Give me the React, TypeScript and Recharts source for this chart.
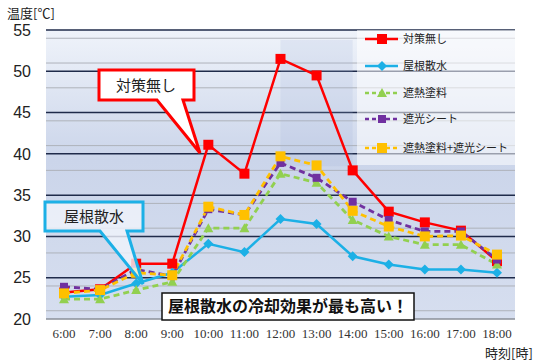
import React from "react";
import {
  LineChart,
  Line,
  XAxis,
  YAxis,
  CartesianGrid,
  Legend,
  ReferenceArea,
} from "recharts";

const hours = ["6:00", "7:00", "8:00", "9:00", "10:00", "11:00", "12:00", "13:00", "14:00", "15:00", "16:00", "17:00", "18:00"];
const noMeasure = [23.2, 23.6, 26.7, 26.7, 41.1, 37.6, 51.5, 49.5, 38, 33, 31.7, 30.7, 27];
const roofSprinkle = [22.7, 22.9, 24.3, 25.6, 29.1, 28.1, 32.1, 31.5, 27.6, 26.6, 26, 26, 25.6];
const heatPaint = [22.4, 22.4, 23.5, 24.5, 31, 31, 37.6, 36.5, 32, 30, 29, 29, 26.6];
const shadeSheet = [23.9, 23.6, 26, 25.2, 33.3, 32.6, 38.9, 37.1, 34.2, 32, 30.6, 30.6, 27.2];
const paintAndSheet = [23.1, 23.5, 25.6, 25.3, 33.6, 32.6, 39.7, 38.6, 33.1, 31.2, 30, 30.1, 27.8];

const yTicks = [20, 25, 30, 35, 40, 45, 50, 55];
const minorLines = [21, 22, 23, 24, 26, 27, 28, 29, 31, 32, 33, 34, 36, 37, 38, 39, 41, 42, 43, 44, 46, 47, 48, 49, 51, 52, 53, 54];
const majorLines = [25, 30, 35, 40, 45, 50, 55];

const series = [
  { key: "noMeasure", name: "対策無し", color: "#ff0000", dash: undefined, shape: "square" },
  { key: "roofSprinkle", name: "屋根散水", color: "#1cb0e6", dash: undefined, shape: "diamond" },
  { key: "heatPaint", name: "遮熱塗料", color: "#92d050", dash: "6 4", shape: "triangle" },
  { key: "shadeSheet", name: "遮光シート", color: "#7030a0", dash: "6 4", shape: "square" },
  { key: "paintAndSheet", name: "遮熱塗料+遮光シート", color: "#ffc000", dash: "6 4", shape: "square" },
];

const data = hours.map((h, i) => ({
  hour: h,
  noMeasure: noMeasure[i],
  roofSprinkle: roofSprinkle[i],
  heatPaint: heatPaint[i],
  shadeSheet: shadeSheet[i],
  paintAndSheet: paintAndSheet[i],
}));

const jp = '"Noto Sans CJK JP", "Liberation Sans", sans-serif';

function Marker({ cx, cy, shape, color }: any) {
  if (cx == null || cy == null) return null;
  if (shape === "diamond") {
    const r = 5;
    return <polygon points={`${cx},${cy - r} ${cx + r},${cy} ${cx},${cy + r} ${cx - r},${cy}`} fill={color} />;
  }
  if (shape === "triangle") {
    const r = 5;
    return <polygon points={`${cx},${cy - r} ${cx + r},${cy + r * 0.8} ${cx - r},${cy + r * 0.8}`} fill={color} />;
  }
  const s = color === "#7030a0" ? 8 : 10;
  return <rect x={cx - s / 2} y={cy - s / 2} width={s} height={s} fill={color} />;
}

function LegendBox() {
  const rows = [39, 66, 93, 119, 148];
  return (
    <svg width={158} height={135} style={{ display: "block" }}>
      <rect x={0} y={0} width={158} height={135} fill="rgba(255,255,255,0.55)" />
      {series.map((s, i) => {
        const y = rows[i] - 30;
        return (
          <g key={s.key}>
            <line x1={8} x2={41} y1={y} y2={y} stroke={s.color} strokeWidth={2.5} strokeDasharray={s.dash ? "4 3" : undefined} />
            <Marker cx={25} cy={y} shape={s.shape} color={s.color} />
            <text x={46} y={y} dy="0.35em" fontSize={11} fontFamily={jp} fill="#222">
              {s.name}
            </text>
          </g>
        );
      })}
    </svg>
  );
}

export default function App() {
  return (
    <div style={{ position: "absolute", left: 0, top: 0, width: 540, height: 363, background: "#fff" }}>
      <LineChart width={540} height={363} data={data} margin={{ top: 30, right: 25, bottom: 0, left: 0 }}>
        <defs>
          <linearGradient id="plotBg" x1="0" y1="0" x2="0" y2="1">
            <stop offset="0%" stopColor="#eff3fa" />
            <stop offset="45%" stopColor="#cbd5ea" />
            <stop offset="100%" stopColor="#d6deef" />
          </linearGradient>
        </defs>
        <CartesianGrid fill="url(#plotBg)" vertical={false} horizontalValues={minorLines} stroke="#aeb2ba" strokeWidth={1} />
        <CartesianGrid vertical={false} horizontalValues={majorLines} stroke="#1f2b4a" strokeWidth={1.5} />
        <ReferenceArea x1="12:00" x2="14:00" y1={38.5} y2={53.8} fill="#9fb0d6" fillOpacity={0.18} stroke="none" />
        <XAxis
          dataKey="hour"
          height={44}
          padding={{ left: 18, right: 18 }}
          axisLine={{ stroke: "#8a8f99", strokeWidth: 1.5 }}
          tickLine={false}
          tickSize={0}
          tickMargin={10}
          interval={0}
          tick={{ fontSize: 13, fontFamily: '"Liberation Serif", serif', fill: "#333" }}
        />
        <YAxis
          domain={[20, 55]}
          ticks={yTicks}
          width={46}
          axisLine={false}
          tickLine={false}
          tickSize={0}
          tickMargin={15}
          tick={{ fontSize: 16, fontFamily: '"Liberation Sans", sans-serif', fill: "#222" }}
        />
        <Legend
          layout="vertical"
          align="center"
          verticalAlign="middle"
          wrapperStyle={{ left: 357, top: 30, width: 158, height: 135 }}
          content={() => <LegendBox />}
        />
        {series.map((s) => (
          <Line
            key={s.key}
            dataKey={s.key}
            name={s.name}
            type="linear"
            stroke={s.color}
            strokeWidth={s.dash ? 2.8 : 2.5}
            strokeDasharray={s.dash}
            isAnimationActive={false}
            dot={(p: any) => <Marker key={`${s.key}-${p.index}`} cx={p.cx} cy={p.cy} shape={s.shape} color={s.color} />}
            activeDot={false}
          />
        ))}
      </LineChart>
      <svg width={540} height={363} style={{ position: "absolute", left: 0, top: 0, pointerEvents: "none" }}>
        <text x={7} y={13} dy="0.35em" fontSize={13} fontFamily={jp} fill="#222">温度[℃]</text>
        <text x={485} y={353} dy="0.35em" fontSize={13} fontFamily={jp} fill="#222">時刻[時]</text>
        <path d="M99,70 H194 V100 H183 L200,153 L157,100 H99 Z" fill="#ffffff" stroke="#ff0000" strokeWidth={3} strokeLinejoin="miter" />
        <text x={146} y={86} dy="0.35em" textAnchor="middle" fontSize={15} fontFamily={jp} fill="#222">対策無し</text>
        <path d="M45,202 H143 V231 H127 L143,284 L100,231 H45 Z" fill="rgba(240,244,251,0.8)" stroke="#1cb0e6" strokeWidth={3} />
        <text x={94} y={217} dy="0.35em" textAnchor="middle" fontSize={15} fontFamily={jp} fill="#222">屋根散水</text>
        <rect x={162} y={293} width={252} height={27} fill="#ffffff" stroke="#111" strokeWidth={1.5} />
        <text x={288} y={306.5} dy="0.35em" textAnchor="middle" fontSize={16} fontWeight="bold" fontFamily={jp} fill="#111">屋根散水の冷却効果が最も高い！</text>
      </svg>
    </div>
  );
}
